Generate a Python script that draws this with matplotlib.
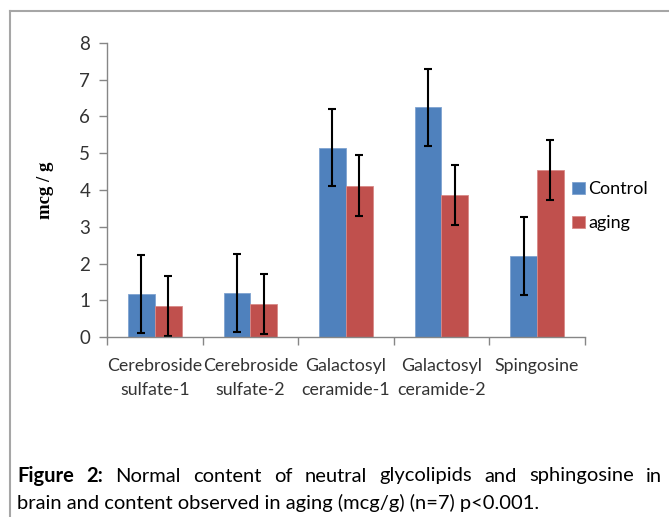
import numpy as np
import matplotlib
matplotlib.use('Agg')
from matplotlib import pyplot as plt
from matplotlib.lines import Line2D

categories = ['Cerebroside\nsulfate-1', 'Cerebroside\nsulfate-2', 'Galactosyl\nceramide-1',
              'Galactosyl\nceramide-2', 'Spingosine']
control = [1.16, 1.19, 5.15, 6.25, 2.21]
control_err = [1.06, 1.06, 1.05, 1.05, 1.06]
aging = [0.85, 0.90, 4.12, 3.86, 4.54]
aging_err = [0.82, 0.81, 0.82, 0.82, 0.82]

BLUE = '#4F81BD'
RED = '#C0504D'
GRAY = '#868686'
sans = ['Lato', 'DejaVu Sans']

fig = plt.figure(figsize=(6.69, 5.17), dpi=100)
ax = fig.add_axes([0.16, 0.348, 0.714, 0.569])

x = np.arange(len(categories))
w = 0.28
ax.bar(x - w/2, control, w, color=BLUE, edgecolor='#7fa3d0', linewidth=0.6, label='Control')
ax.bar(x + w/2, aging, w, color=RED, edgecolor='#d88a88', linewidth=0.6, label='aging')
ax.errorbar(x - w/2, control, yerr=control_err, fmt='none', ecolor='black',
            elinewidth=1.5, capsize=3, capthick=1.5)
ax.errorbar(x + w/2, aging, yerr=aging_err, fmt='none', ecolor='black',
            elinewidth=1.5, capsize=3, capthick=1.5)

ax.set_xlim(-0.5, len(categories) - 0.5)
ax.set_ylim(0, 8)
ax.set_yticks(range(0, 9))
ax.set_xticks(x)
ax.set_xticklabels(categories, family=sans, fontsize=12.8, color='#333333', linespacing=1.6)
ax.tick_params(axis='x', length=0, pad=15)
ax.set_xticks(np.arange(-0.5, len(categories)), minor=True)
ax.tick_params(axis='x', which='minor', length=6, color=GRAY, width=1)
ax.tick_params(axis='y', length=6, color=GRAY, width=1, labelsize=13.5, labelcolor='#333333', pad=6)
for lab in ax.get_yticklabels():
    lab.set_family(sans)
for s in ['top', 'right']:
    ax.spines[s].set_visible(False)
for s in ['left', 'bottom']:
    ax.spines[s].set_color(GRAY)
    ax.spines[s].set_linewidth(1)

ax.set_ylabel('mcg / g', family='Liberation Serif', fontweight='bold', fontsize=13.5, labelpad=18)

leg = ax.legend(loc='center left', bbox_to_anchor=(0.94, 0.445), frameon=False,
                handlelength=0.7, handleheight=0.7, handletextpad=0.2, labelspacing=1.0,
                prop={'family': sans, 'size': 13})

# border lines around the figure area
fig.add_artist(Line2D([10/669, 10/669], [0, 1 - 11/517], color='#a6a6a6', lw=1.5))
fig.add_artist(Line2D([10/669, 1], [1 - 11/517, 1 - 11/517], color='#a6a6a6', lw=1.5))

# caption, first line justified
cap_font = ['Lato', 'DejaVu Sans']
fig.canvas.draw()
r = fig.canvas.get_renderer()
words = [('Figure', 'bold'), ('2:', 'bold'), ('Normal', 'normal'), ('content', 'normal'),
         ('of', 'normal'), ('neutral', 'normal'), ('glycolipids', 'normal'), ('and', 'normal'),
         ('sphingosine', 'normal'), ('in', 'normal')]
x0, x1 = 17/669, 662/669
y1 = 1 - 476/517
items = []
tot = 0
for wd, fw in words:
    t = fig.text(0, y1, wd, fontsize=14.5, fontweight=fw, family=cap_font, va='center')
    ww = t.get_window_extent(r).width / fig.bbox.width
    items.append((t, ww))
    tot += ww
gap = (x1 - x0 - tot) / (len(words) - 1)
pos = x0
for t, ww in items:
    t.set_x(pos)
    pos += ww + gap
fig.text(x0, 1 - 503/517, 'brain and content observed in aging (mcg/g) (n=7) p<0.001.',
         fontsize=14.5, family=cap_font, va='center')

fig.savefig('out.png', dpi=100)
